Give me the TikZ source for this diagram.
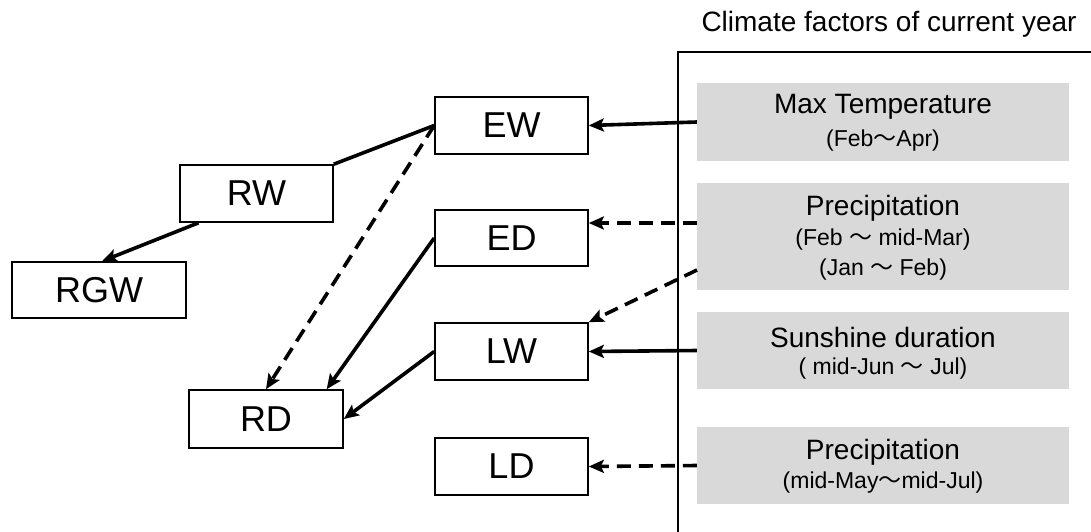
\documentclass[tikz,border=0pt]{standalone}
\usepackage{fontspec}
\setmainfont{Liberation Sans}
\newfontfamily\cjk{Noto Sans CJK JP}
\usetikzlibrary{arrows.meta,calc}
\newcommand{\wv}{{\cjk ～}}
\definecolor{factorgrey}{HTML}{D9D9D9}
\begin{document}
\begin{tikzpicture}[x=1pt,y=-1pt,
  box/.style={draw, line width=1.6pt, minimum width=153pt, minimum height=57pt, inner sep=0pt, font=\fontsize{36}{40}\selectfont},
  factor/.style={fill=factorgrey, minimum width=372pt, inner sep=0pt},
  bigtxt/.style={font=\fontsize{28}{32}\selectfont, inner sep=0pt},
  smalltxt/.style={font=\fontsize{23}{27}\selectfont, inner sep=0pt},
  arr/.style={line width=3.6pt, -{Stealth[length=15pt,width=13pt,inset=3pt]}},
  plain/.style={line width=3.6pt},
  dsh/.style={dash pattern=on 14pt off 8pt}
]
\useasboundingbox (0,0) rectangle (1091,531);
\fill[white] (0,0) rectangle (1091,531);

% frame
\draw[line width=1.8pt] (678,535) -- (678,52) -- (1095,52);
\node[bigtxt] (title) at (889,24) {Climate factors of current year};

% left boxes
\node[box, minimum width=174pt, minimum height=56pt] (RGW) at (99,290) {RGW};
\node[box] (RW) at (256.5,193.5) {RW};
\node[box] (EW) at (511.5,125.5) {EW};
\node[box, minimum height=56pt] (ED) at (511.5,238) {ED};
\node[box] (LW) at (511.5,351.5) {LW};
\node[box, minimum width=154pt, minimum height=58pt] (RD) at (266,419) {RD};
\node[box] (LD) at (511.5,466.5) {LD};

% factor boxes
\node[factor, minimum height=78pt] (F1) at (883,122) {};
\node[factor, minimum height=107pt] (F2) at (883,236.5) {};
\node[factor, minimum height=77pt] (F3) at (883,350.5) {};
\node[factor, minimum height=77pt] (F4) at (883,465.5) {};

\node[bigtxt] (t1a) at (883,107) {Max Temperature};
\node[smalltxt] (t1b) at (883,141) {(Feb\wv Apr)};
\node[bigtxt] (t2a) at (883,208) {Precipitation};
\node[smalltxt] (t2b) at (883,240) {(Feb \wv\ mid-Mar)};
\node[smalltxt] (t2c) at (883,270) {(Jan \wv\ Feb)};
\node[bigtxt] (t3a) at (883,337) {Sunshine duration};
\node[smalltxt] (t3b) at (883,369) {( mid-Jun \wv\ Jul)};
\node[bigtxt] (t4a) at (883,452) {Precipitation};
\node[smalltxt] (t4b) at (883,483) {(mid-May\wv mid-Jul)};

% connectors from factors
\coordinate (f2a) at (697,223);
\coordinate (f2b) at (697,270);
\draw[arr] (F1.west) -- (EW.east);
\draw[arr, dsh] (f2a) -- (f2a -| ED.east);
\draw[arr, dsh] (f2b) -- (LW.north east);
\draw[arr] (F3.west) -- (LW.east);
\draw[arr, dsh] (F4.west) -- (LD.east);

% internal connectors
\draw[plain] (EW.west) -- (RW.north east);
\draw[arr] ($(RW.south west)!0.125!(RW.south east)$) -- ($(RGW.north)+(3,0)$);
\draw[arr, dsh] (EW.west) -- (RD.north);
\draw[arr] (ED.west) -- ($(RD.north)!0.78!(RD.north east)$);
\draw[arr] (LW.west) -- (RD.east);
\end{tikzpicture}
\end{document}
